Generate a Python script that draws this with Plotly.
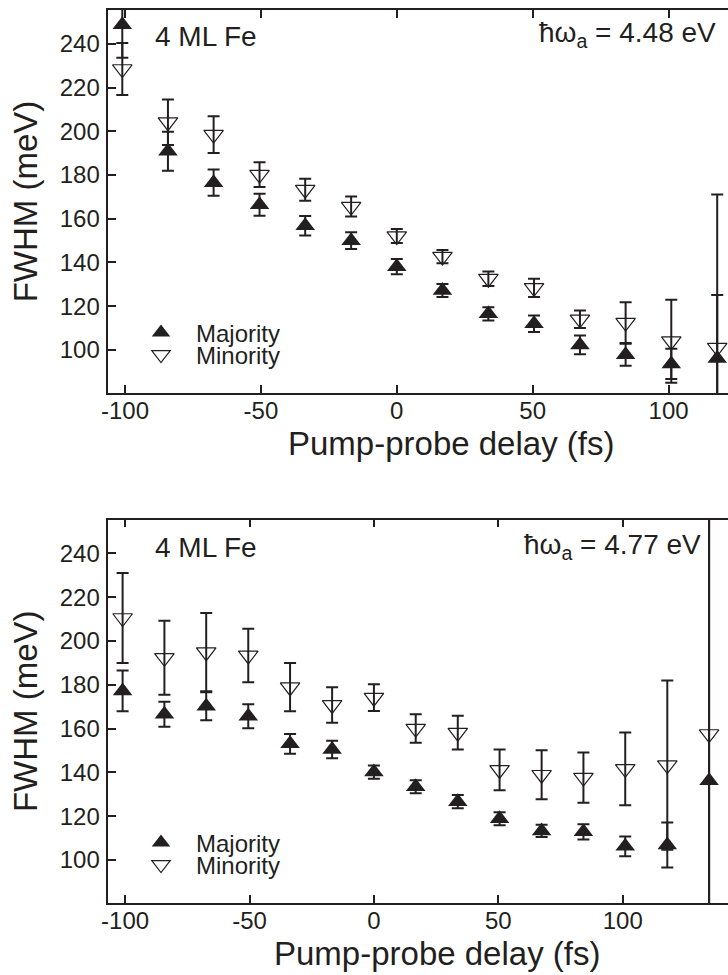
import plotly.graph_objects as go

# ---------------- data ----------------
delay = [-101, -84.2, -67.4, -50.5, -33.7, -16.8, 0, 16.8, 33.7, 50.5, 67.4, 84.2, 101, 117.9, 134.7]

# panel a: hbar omega = 4.48 eV (14 delays)
maj_a = [248.7, 190.9, 176.5, 166.4, 156.8, 150.0, 138.1, 127.2, 116.5, 112.0, 102.3, 97.8, 93.6, 96.1]
maj_a_err = [15.0, 8.9, 6.0, 5.0, 4.5, 3.8, 3.5, 3.0, 3.0, 3.8, 4.3, 5.0, 6.9, 29.0]
min_a = [228.5, 204.2, 198.5, 180.2, 173.3, 165.6, 152.1, 142.7, 132.6, 128.4, 114.0, 112.5, 104.0, 101.1]
min_a_err = [11.9, 10.4, 8.4, 5.7, 5.0, 4.6, 3.2, 3.0, 3.3, 4.2, 4.0, 9.3, 19.0, 70.0]

# panel b: hbar omega = 4.77 eV (15 delays)
maj_b = [177.2, 166.5, 170.2, 165.6, 153.0, 150.4, 140.1, 133.4, 126.6, 118.8, 113.2, 112.8, 106.2, 106.8, 136.1]
maj_b_err = [9.3, 5.7, 6.4, 5.5, 4.5, 4.0, 3.0, 3.0, 3.0, 3.0, 2.8, 3.5, 4.5, 10.3, 120.0]
min_b = [210.5, 192.3, 194.9, 193.4, 178.9, 170.8, 174.1, 160.0, 158.1, 141.1, 138.9, 137.6, 141.6, 143.3, 157.5]
min_b_err = [20.6, 16.9, 17.9, 12.2, 11.0, 8.1, 6.1, 6.5, 7.7, 9.3, 11.2, 11.5, 16.6, 38.7, 110.0]

y_ticks = [100, 120, 140, 160, 180, 200, 220, 240]
x_ticks = [-100, -50, 0, 50, 100]
x_tick_text = ["-100", "-50", "0", "50", "100"]
series_names = ["Majority", "Minority"]
panel_labels = ["4 ML Fe", "4 ML Fe"]
energy_labels = ["ħω<sub>a</sub> = 4.48 eV", "ħω<sub>a</sub> = 4.77 eV"]
x_title = "Pump-probe delay (fs)"
y_title = "FWHM (meV)"

# ---------------- style ----------------
INK = "#231f20"
FONT = "Liberation Sans, Arial, Helvetica, sans-serif"
W, H = 728, 975


def py(p):
    return 1 - p / H


def px(p):
    return p / W


fig = go.Figure()

panels = [
    dict(xa="x", ya="y", n=14, maj=maj_a, maje=maj_a_err, mn=min_a, mne=min_a_err,
         legs=("legend", "legend2")),
    dict(xa="x2", ya="y2", n=15, maj=maj_b, maje=maj_b_err, mn=min_b, mne=min_b_err,
         legs=("legend3", "legend4")),
]

MS = 17
for p in panels:
    n = p["n"]
    fig.add_trace(go.Scatter(
        x=delay[:n], y=p["maj"], mode="markers", name=series_names[0],
        xaxis=p["xa"], yaxis=p["ya"], legend=p["legs"][0],
        marker=dict(symbol="triangle-up", size=MS, color=INK, line=dict(width=0)),
        error_y=dict(type="data", array=p["maje"], visible=True, color=INK,
                     thickness=2, width=6),
    ))
    fig.add_trace(go.Scatter(
        x=delay[:n], y=p["mn"], mode="markers", name=series_names[1],
        xaxis=p["xa"], yaxis=p["ya"], legend=p["legs"][1],
        marker=dict(symbol="triangle-down-open", size=MS, color=INK, line=dict(width=1.2, color=INK)),
        error_y=dict(type="data", array=p["mne"], visible=True, color=INK,
                     thickness=2, width=6),
    ))

xdom = [px(108.3), 1.0]
ydom_top = [py(393), py(10)]
ydom_bot = [py(903), py(519.5)]
yrange = [80.3, 255.5]

common_x = dict(
    showline=True, linecolor=INK, linewidth=1.5, mirror="ticks",
    ticks="inside", ticklen=8, tickwidth=1.5, tickcolor=INK,
    tickvals=x_ticks, ticktext=x_tick_text, showgrid=False, zeroline=False,
    tickfont=dict(family=FONT, size=24, color=INK),
    ticklabelstandoff=-5,
    automargin=False, domain=xdom,
)
common_y = dict(
    showline=True, linecolor=INK, linewidth=1.5, mirror=False,
    ticks="inside", ticklen=8, tickwidth=1.5, tickcolor=INK,
    tickvals=y_ticks, showgrid=False, zeroline=False, range=yrange,
    tickfont=dict(family=FONT, size=24, color=INK),
    ticklabelstandoff=2,
    title=dict(text=y_title, font=dict(family=FONT, size=33, color=INK), standoff=12),
    automargin=False,
)
right_y = dict(
    showline=False, ticks="inside", ticklen=5, tickwidth=1.5, tickcolor=INK,
    tickvals=y_ticks, showticklabels=False, showgrid=False, zeroline=False,
    range=yrange, side="right", automargin=False,
)

leg_common = dict(
    xanchor="left", yanchor="middle", bgcolor="rgba(0,0,0,0)", borderwidth=0,
    font=dict(family=FONT, size=24, color=INK), itemwidth=60,
)

fig.update_layout(
    width=W, height=H,
    margin=dict(l=0, r=0, t=0, b=0),
    paper_bgcolor="white", plot_bgcolor="white",
    showlegend=True,
    xaxis=dict(common_x, anchor="y", range=[-106.15, 121.87]),
    yaxis=dict(common_y, anchor="x", domain=ydom_top),
    xaxis2=dict(common_x, anchor="y2", range=[-106.75, 142.3]),
    yaxis2=dict(common_y, anchor="x2", domain=ydom_bot),
    yaxis3=dict(right_y, overlaying="y", anchor="x"),
    yaxis4=dict(right_y, overlaying="y2", anchor="x2"),
    legend=dict(leg_common, x=px(126), y=py(333)),
    legend2=dict(leg_common, x=px(126), y=py(355)),
    legend3=dict(leg_common, x=px(126), y=py(843)),
    legend4=dict(leg_common, x=px(126), y=py(865)),
)

ann_font = dict(family=FONT, size=28, color=INK)
for i, (yl, ye) in enumerate([(37, 35), (547.5, 546)]):
    fig.add_annotation(text=panel_labels[i], xref="paper", yref="paper",
                       x=px(153), y=py(yl), xanchor="left", yanchor="middle",
                       showarrow=False, font=ann_font)
    fig.add_annotation(text=energy_labels[i], xref="paper", yref="paper",
                       x=px([718, 703][i]), y=py(ye), xanchor="right", yanchor="middle",
                       showarrow=False, font=ann_font)

# x-axis titles (placed as in the reference, slightly right of the axis centre)
for xc, yc in [(451, 443), (437, 953)]:
    fig.add_annotation(text=x_title, xref="paper", yref="paper",
                       x=px(xc), y=py(yc), xanchor="center", yanchor="middle",
                       showarrow=False, font=dict(family=FONT, size=33, color=INK))

fig.write_html("out.html")
